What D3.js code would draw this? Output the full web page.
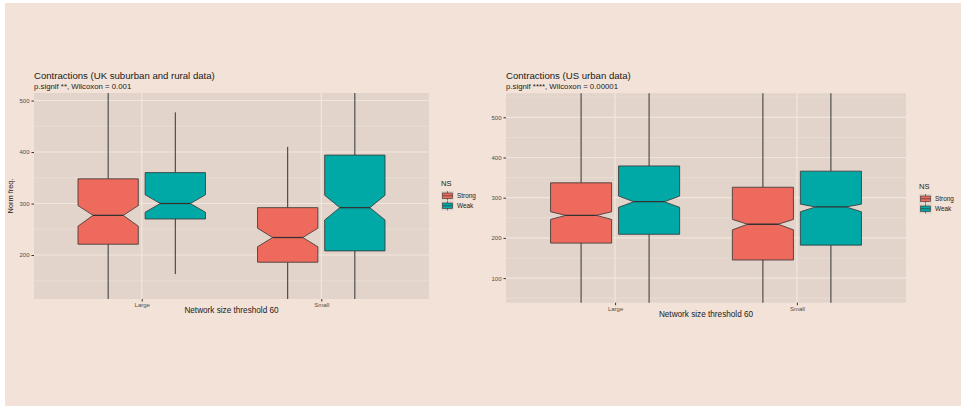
<!DOCTYPE html>
<html><head><meta charset="utf-8">
<script src="https://cdn.jsdelivr.net/npm/d3@7"></script>
<style>body{margin:0;background:#fff}svg{display:block;font-family:"Liberation Sans",Arial,sans-serif}</style>
</head><body><svg id="c" width="965" height="409"></svg>
<script>
const categories = ["Large", "Small"];
const groups = ["Strong", "Weak"];
const colors = ["#EE6A5C", "#00A9A5"];
// box stats: [lowerWhisker, q1, notchLow, median, notchHigh, q3, upperWhisker]
const ukStrong = [[100, 221, 256, 277, 296, 348, 560], [100, 186, 216, 234, 252, 292, 410]];
const ukWeak   = [[163, 270, 283, 300, 317, 360, 477], [100, 208, 268, 292, 316, 394, 560]];
const usStrong = [[0, 187, 246, 256, 265, 337, 600], [0, 145, 220, 234, 246, 326, 600]];
const usWeak   = [[0, 209, 276, 290, 304, 379, 600], [0, 182, 265, 277, 284, 366, 600]];
const ukTicks = [200, 300, 400, 500];
const ukMinor = [150, 250, 350, 450];
const usTicks = [100, 200, 300, 400, 500];
const usMinor = [50, 150, 250, 350, 450, 550];

const svg = d3.select("#c");
svg.append("rect").attr("x", 5).attr("y", 3).attr("width", 956).attr("height", 403).attr("fill", "#F3E2D7");

function panel(cfg) {
  const g = svg.append("g");
  const x = d3.scaleLinear().domain([0.4, 2.6]).range([cfg.x0, cfg.x1]);
  const y = d3.scaleLinear().domain(cfg.domain).range([cfg.y1, cfg.y0]);
  const clipId = "clip" + cfg.id;
  svg.append("clipPath").attr("id", clipId).append("rect")
    .attr("x", cfg.x0).attr("y", cfg.y0).attr("width", cfg.x1 - cfg.x0).attr("height", cfg.y1 - cfg.y0);
  g.append("rect").attr("x", cfg.x0).attr("y", cfg.y0).attr("width", cfg.x1 - cfg.x0).attr("height", cfg.y1 - cfg.y0).attr("fill", "#E2D4CA");
  const grid = g.append("g").attr("clip-path", `url(#${clipId})`);
  grid.selectAll(".mn").data(cfg.minor).join("line").attr("x1", cfg.x0).attr("x2", cfg.x1)
    .attr("y1", d => y(d)).attr("y2", d => y(d)).attr("stroke", "#EDE1D8").attr("stroke-width", 0.6);
  grid.selectAll(".mj").data(cfg.ticks).join("line").attr("x1", cfg.x0).attr("x2", cfg.x1)
    .attr("y1", d => y(d)).attr("y2", d => y(d)).attr("stroke", "#F1E6DE").attr("stroke-width", 1.2);
  grid.selectAll(".vx").data(categories).join("line").attr("x1", (d, i) => x(i + 1)).attr("x2", (d, i) => x(i + 1))
    .attr("y1", cfg.y0).attr("y2", cfg.y1).attr("stroke", "#F1E6DE").attr("stroke-width", 1.2);
  // axes
  const ya = d3.axisLeft(y).tickValues(cfg.ticks).tickSize(2.5).tickPadding(2);
  const yg = g.append("g").attr("transform", `translate(${cfg.x0},0)`).call(ya);
  yg.select(".domain").remove();
  yg.selectAll("line").attr("stroke", "#333");
  yg.selectAll("text").attr("font-size", 6).attr("fill", "#4D4D4D");
  const xb = d3.scalePoint().domain(categories).range([x(1), x(2)]);
  const xa = d3.axisBottom(xb).tickSize(2.5).tickPadding(1.5);
  const xg = g.append("g").attr("transform", `translate(0,${cfg.y1})`).call(xa);
  xg.select(".domain").remove();
  xg.selectAll("line").attr("stroke", "#333");
  xg.selectAll("text").attr("font-size", 6).attr("fill", "#4D4D4D");
  // boxes
  const off = 0.187, half = 0.168, nw = 0.5;
  const boxes = g.append("g").attr("clip-path", `url(#${clipId})`);
  [cfg.strong, cfg.weak].forEach((ser, gi) => {
    ser.forEach((s, ci) => {
      const cx = (ci + 1) + (gi === 0 ? -off : off);
      const xl = x(cx - half), xr = x(cx + half);
      const ind = (xr - xl) * (1 - nw) / 2;
      const [lw, q1, nl, md, nh, q3, uw] = s;
      boxes.append("line").attr("x1", x(cx)).attr("x2", x(cx)).attr("y1", y(q3)).attr("y2", y(uw)).attr("stroke", "#333").attr("stroke-width", 1);
      boxes.append("line").attr("x1", x(cx)).attr("x2", x(cx)).attr("y1", y(q1)).attr("y2", y(lw)).attr("stroke", "#333").attr("stroke-width", 1);
      const pts = [[xl, y(q3)], [xr, y(q3)], [xr, y(nh)], [xr - ind, y(md)], [xr, y(nl)], [xr, y(q1)],
                   [xl, y(q1)], [xl, y(nl)], [xl + ind, y(md)], [xl, y(nh)]];
      boxes.append("path").attr("d", d3.line()(pts) + "Z").attr("fill", colors[gi]).attr("stroke", "#333").attr("stroke-width", 0.8);
      boxes.append("line").attr("x1", xl + ind).attr("x2", xr - ind).attr("y1", y(md)).attr("y2", y(md)).attr("stroke", "#333").attr("stroke-width", 1.3);
    });
  });
  // titles
  g.append("text").attr("x", cfg.x0).attr("y", cfg.y0 - 14).attr("font-size", 9.6).attr("fill", "#1a1a1a").text(cfg.title);
  g.append("text").attr("x", cfg.x0).attr("y", cfg.y0 - 4).attr("font-size", 7.8).attr("fill", "#1a1a1a").text(cfg.subtitle);
  g.append("text").attr("x", (cfg.x0 + cfg.x1) / 2).attr("y", cfg.y1 + 14).attr("text-anchor", "middle").attr("font-size", 8.2).attr("fill", "#1a1a1a").text("Network size threshold 60");
  if (cfg.ylab) {
    g.append("text").attr("transform", `translate(${cfg.x0 - 21},${(cfg.y0 + cfg.y1) / 2}) rotate(-90)`).attr("text-anchor", "middle").attr("font-size", 7.4).attr("fill", "#1a1a1a").text(cfg.ylab);
  }
  // legend
  const lg = g.append("g").attr("transform", `translate(${cfg.lx},${cfg.ly})`);
  lg.append("text").attr("x", 0).attr("y", 0).attr("font-size", 7.6).attr("fill", "#1a1a1a").text("NS");
  groups.forEach((n, i) => {
    const yy = 5 + i * 10;
    lg.append("rect").attr("x", 0).attr("y", yy).attr("width", 13).attr("height", 9.5).attr("fill", "#E2D4CA");
    lg.append("line").attr("x1", 6.5).attr("x2", 6.5).attr("y1", yy).attr("y2", yy + 9.5).attr("stroke", "#333").attr("stroke-width", 0.6);
    lg.append("rect").attr("x", 1.5).attr("y", yy + 2).attr("width", 10).attr("height", 5.5).attr("fill", colors[i]).attr("stroke", "#333").attr("stroke-width", 0.6);
    lg.append("line").attr("x1", 1.5).attr("x2", 11.5).attr("y1", yy + 4.75).attr("y2", yy + 4.75).attr("stroke", "#333").attr("stroke-width", 0.6);
    lg.append("text").attr("x", 16).attr("y", yy + 7).attr("font-size", 6.4).attr("fill", "#1a1a1a").text(n);
  });
}

panel({id: "uk", x0: 34, x1: 429, y0: 93, y1: 299, domain: [114.6, 514.6], ticks: ukTicks, minor: ukMinor,
  strong: ukStrong, weak: ukWeak, title: "Contractions (UK suburban and rural data)",
  subtitle: "p.signif **, Wilcoxon = 0.001", ylab: "Norm freq.", lx: 441, ly: 186});
panel({id: "us", x0: 506, x1: 906, y0: 93.3, y1: 302.7, domain: [38.8, 559.7], ticks: usTicks, minor: usMinor,
  strong: usStrong, weak: usWeak, title: "Contractions (US urban data)",
  subtitle: "p.signif ****, Wilcoxon = 0.00001", ylab: null, lx: 919, ly: 189});
</script></body></html>
